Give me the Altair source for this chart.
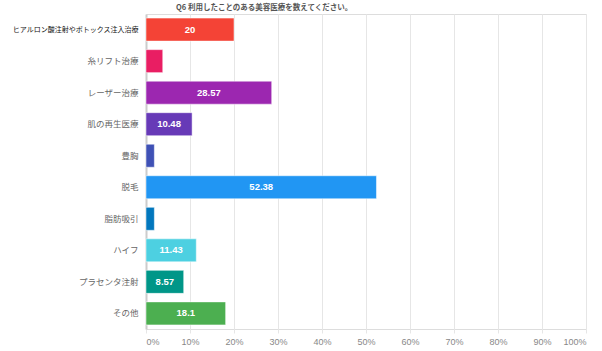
import altair as alt
import pandas as pd

categories = ["ヒアルロン酸注射やボトックス注入治療", "糸リフト治療", "レーザー治療", "肌の再生医療",
              "豊胸", "脱毛", "脂肪吸引", "ハイフ", "プラセンタ注射", "その他"]
values = [20, 3.81, 28.57, 10.48, 1.9, 52.38, 1.9, 11.43, 8.57, 18.1]
colors = ["#F44336", "#E91E63", "#9C27B0", "#673AB7", "#3F51B5",
          "#2196F3", "#0277BD", "#4DD0E1", "#009688", "#4CAF50"]
x_ticks = [0, 10, 20, 30, 40, 50, 60, 70, 80, 90, 100]

df = pd.DataFrame({"cat": categories, "val": values, "color": colors})
df["label"] = df["val"].map(lambda v: f"{v:g}" if v >= 5 else "")

FONT = "Noto Sans CJK JP, Liberation Sans, sans-serif"
NUM = "Liberation Sans, Arial, sans-serif"
LONG = "datum.value == 'ヒアルロン酸注射やボトックス注入治療'"

y = alt.Y("cat:N", sort=categories, title=None,
          scale=alt.Scale(paddingInner=0.27, paddingOuter=0.13),
          axis=alt.Axis(labelFont=FONT,
                        labelFontSize={"condition": {"test": LONG, "value": 7}, "value": 8.5},
                        labelPadding=8,
                        labelColor={"condition": {"test": LONG, "value": "#111"}, "value": "#666"},
                        ticks=False, domainColor="#ccc", domainWidth=2, labelLimit=200))
x = alt.X("val:Q", title=None, scale=alt.Scale(domain=[0, 100], nice=False),
          axis=alt.Axis(values=x_ticks, labelExpr="datum.value + '%'", labelFont=NUM,
                        labelFontSize=9, labelColor="#888", gridColor="#e6e6e6",
                        domain=False, tickColor="#e6e6e6", tickSize=4, labelPadding=4))

bars = alt.Chart(df).mark_bar(stroke="white", strokeOpacity=0.5, strokeWidth=1).encode(
    x=x, y=y, color=alt.Color("color:N", scale=None))

text = alt.Chart(df).transform_calculate(mid="datum.val / 2").mark_text(
    color="white", fontWeight="bold", fontSize=9.5, font=NUM).encode(
    x=alt.X("mid:Q"), y=alt.Y("cat:N", sort=categories), text="label:N")

chart = (bars + text).properties(
    width=440, height=315,
    title=alt.TitleParams("Q6 利用したことのある美容医療を数えてください。", fontSize=7.5,
                          font=FONT, fontWeight="bold", color="#555", anchor="start",
                          frame="group", dx=30, offset=3),
    autosize=alt.AutoSizeParams(type="none"),
    padding={"left": 146, "top": 14, "right": 16, "bottom": 22},
).configure_view(stroke=None).configure(background="white")

chart.save("out.html", embed_options={"renderer": "svg", "actions": False})
